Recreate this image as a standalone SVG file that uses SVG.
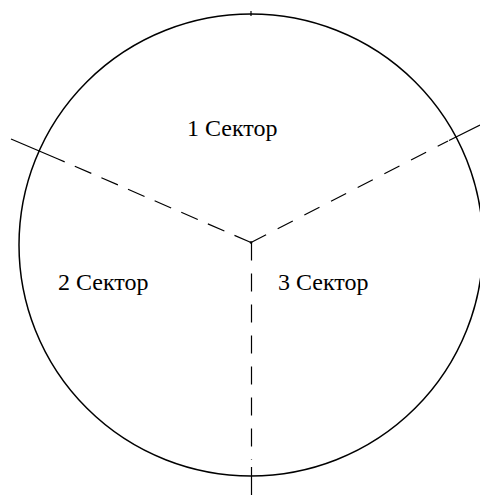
<svg xmlns="http://www.w3.org/2000/svg" width="480" height="495" viewBox="0 0 480 495">
  <style>
    .outline { fill: none; stroke: #000; stroke-width: 1.5; }
    .divider { fill: none; stroke: #000; stroke-width: 1.2; }
    .dash-a { stroke-dasharray: 18 11; }
    .dash-b { stroke-dasharray: 17 13; }
    .dash-c { stroke-dasharray: 18 13; }
    .label { font-family: "Times New Roman", "Liberation Serif", "Noto Serif", "DejaVu Serif", serif; font-size: 24px; fill: #000; }
  </style>
  <rect width="480" height="495" fill="#fff"/>

  <!-- outer circle -->
  <g id="circle">
    <ellipse class="outline" cx="251" cy="245" rx="232" ry="231"/>
    <line class="divider" x1="251" y1="11" x2="251" y2="16"/>
  </g>

  <!-- sector boundaries, drawn outward from the centre -->
  <g id="connectors">
    <line class="divider dash-a" x1="251" y1="242.5" x2="58" y2="159"/>
    <line class="divider" x1="58" y1="159" x2="11" y2="139"/>
    <line class="divider dash-b" x1="251" y1="242.5" x2="448" y2="141"/>
    <line class="divider" x1="449" y1="140.5" x2="480" y2="125"/>
    <line class="divider dash-c" x1="251.5" y1="242.5" x2="251.5" y2="460"/>
    <line class="divider" x1="251.5" y1="467" x2="251.5" y2="495"/>
    <circle cx="251" cy="242.5" r="1.3" fill="#000"/>
  </g>

  <g id="sector-1">
    <text class="label" x="187" y="136">1 Сектор</text>
  </g>
  <g id="sector-2">
    <text class="label" x="58" y="290">2 Сектор</text>
  </g>
  <g id="sector-3">
    <text class="label" x="278" y="290">3 Сектор</text>
  </g>
</svg>
